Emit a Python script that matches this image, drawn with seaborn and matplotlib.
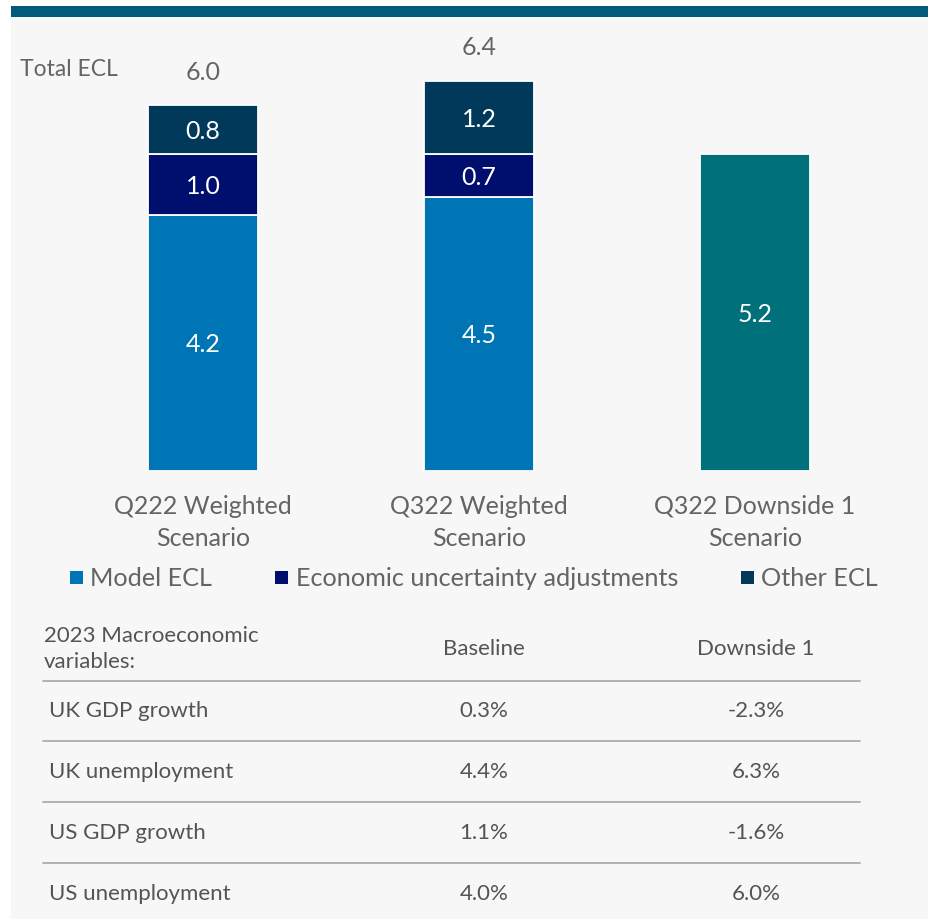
import matplotlib
matplotlib.use("Agg")
import matplotlib.pyplot as plt
from matplotlib.patches import Rectangle, Patch
from matplotlib.lines import Line2D
import seaborn as sns
import numpy as np

# ---------------- data ----------------
categories = ["Q222 Weighted\nScenario", "Q322 Weighted\nScenario", "Q322 Downside 1\nScenario"]
weighted_cats = categories[:2]
model_ecl = [4.2, 4.5]
econ_adj = [1.0, 0.7]
other_ecl = [0.8, 1.2]
downside_cat = [categories[2]]
downside_ecl = [5.2]
totals = [6.0, 6.4]
series_names = ["Model ECL", "Economic uncertainty adjustments", "Other ECL"]

table_header = ["2023 Macroeconomic\nvariables:", "Baseline", "Downside 1"]
row_labels = ["UK GDP growth", "UK unemployment", "US GDP growth", "US unemployment"]
baseline_vals = ["0.3%", "4.4%", "1.1%", "4.0%"]
downside_vals = ["-2.3%", "6.3%", "-1.6%", "6.0%"]

# ---------------- style ----------------
sns.set_theme(style="white")
plt.rcParams["font.family"] = ["Lato", "DejaVu Sans"]
plt.rcParams["font.weight"] = "normal"

C_MODEL = "#0075b5"
C_ECON = "#000e6e"
C_OTHER = "#00395a"
C_DOWN = "#00707b"
C_BAND = "#005a7a"
C_BG = "#f7f7f7"
C_TXT = "#646464"
C_TAB = "#545454"

W, H = 929, 919
fig = plt.figure(figsize=(W / 100, H / 100), dpi=100, facecolor="white")

def fx(x):
    return x / W

def fy(y):
    return 1 - y / H

# background panels
fig.patches.append(Rectangle((fx(11), 0), 1 - fx(11), fy(17), transform=fig.transFigure,
                             facecolor=C_BG, edgecolor="none", zorder=-10))
fig.patches.append(Rectangle((fx(11), fy(17)), 1 - fx(11), fy(6) - fy(17), transform=fig.transFigure,
                             facecolor=C_BAND, edgecolor="none", zorder=-9))

# ---------------- bar chart ----------------
px_per_unit = 61.0
bar_bottom_px = 471
ax_top_px = 20
ax = fig.add_axes([0, fy(bar_bottom_px), 1, (bar_bottom_px - ax_top_px) / H])
ax.set_facecolor("none")

bw = 110 / 276
edge = dict(edgecolor="white", linewidth=1.3)
sns.barplot(x=weighted_cats, y=model_ecl, order=categories, color=C_MODEL, width=bw,
            saturation=1, ax=ax, **edge)
sns.barplot(x=weighted_cats, y=econ_adj, bottom=model_ecl, order=categories, color=C_ECON,
            width=bw, saturation=1, ax=ax, **edge)
sns.barplot(x=weighted_cats, y=other_ecl, bottom=np.add(model_ecl, econ_adj), order=categories,
            color=C_OTHER, width=bw, saturation=1, ax=ax, **edge)
sns.barplot(x=downside_cat, y=downside_ecl, order=categories, color=C_DOWN, width=bw,
            saturation=1, ax=ax, **edge)

ax.set_xlim((0 - 203) / 276, (W - 203) / 276)
ax.set_ylim(0, (bar_bottom_px - ax_top_px) / px_per_unit)
for s in ax.spines.values():
    s.set_visible(False)
ax.set_yticks([])
ax.set_ylabel("")
ax.set_xlabel("")
ax.set_xticks(range(len(categories)))
ax.set_xticklabels(categories, fontsize=18, color=C_TXT, linespacing=1.5)
ax.tick_params(axis="x", length=0, pad=17)

# segment labels (slightly below geometric centre, as in the reference)
dy = -2 / px_per_unit
for i in range(len(weighted_cats)):
    base = 0.0
    for vals in (model_ecl, econ_adj, other_ecl):
        ax.text(i, base + vals[i] / 2 + dy, f"{vals[i]:.1f}", ha="center", va="center",
                color="white", fontsize=18)
        base += vals[i]
    ax.text(i, totals[i] + 33 / px_per_unit, f"{totals[i]:.1f}", ha="center", va="center",
            color=C_TXT, fontsize=18)
ax.text(2, downside_ecl[0] / 2 + dy, f"{downside_ecl[0]:.1f}", ha="center", va="center",
        color="white", fontsize=18)

fig.text(fx(20), fy(69), "Total ECL", ha="left", va="center", color=C_TXT, fontsize=16.5)

# legend
handles = [Patch(facecolor=c, edgecolor="none") for c in (C_MODEL, C_ECON, C_OTHER)]
fig.legend(handles, series_names, loc="center left", bbox_to_anchor=(fx(70), fy(579)),
           ncol=3, frameon=False, fontsize=18.2, handlelength=0.5, handleheight=0.42,
           handletextpad=0.3, columnspacing=2.5, borderpad=0, borderaxespad=0,
           labelcolor=C_TXT)

# ---------------- table ----------------
tab_fs = 16
col_base_x = 484
col_down_x = 756
fig.text(fx(44), fy(649), table_header[0], ha="left", va="center", color=C_TAB,
         fontsize=tab_fs, linespacing=1.4)
fig.text(fx(col_base_x), fy(649), table_header[1], ha="center", va="center", color=C_TAB, fontsize=tab_fs)
fig.text(fx(col_down_x), fy(649), table_header[2], ha="center", va="center", color=C_TAB, fontsize=tab_fs)

rule_ys = [681, 741, 802, 863]
for ry in rule_ys:
    fig.add_artist(Line2D([fx(43), fx(860)], [fy(ry), fy(ry)], transform=fig.transFigure,
                          color="#a6a6a6", linewidth=1.2))

row_ys = [711, 772, 833, 894]
for lab, b, d, ry in zip(row_labels, baseline_vals, downside_vals, row_ys):
    fig.text(fx(49), fy(ry), lab, ha="left", va="center", color=C_TAB, fontsize=tab_fs)
    fig.text(fx(col_base_x), fy(ry), b, ha="center", va="center", color=C_TAB, fontsize=tab_fs)
    fig.text(fx(col_down_x), fy(ry), d, ha="center", va="center", color=C_TAB, fontsize=tab_fs)

fig.savefig("out.png", dpi=100, facecolor="white")
